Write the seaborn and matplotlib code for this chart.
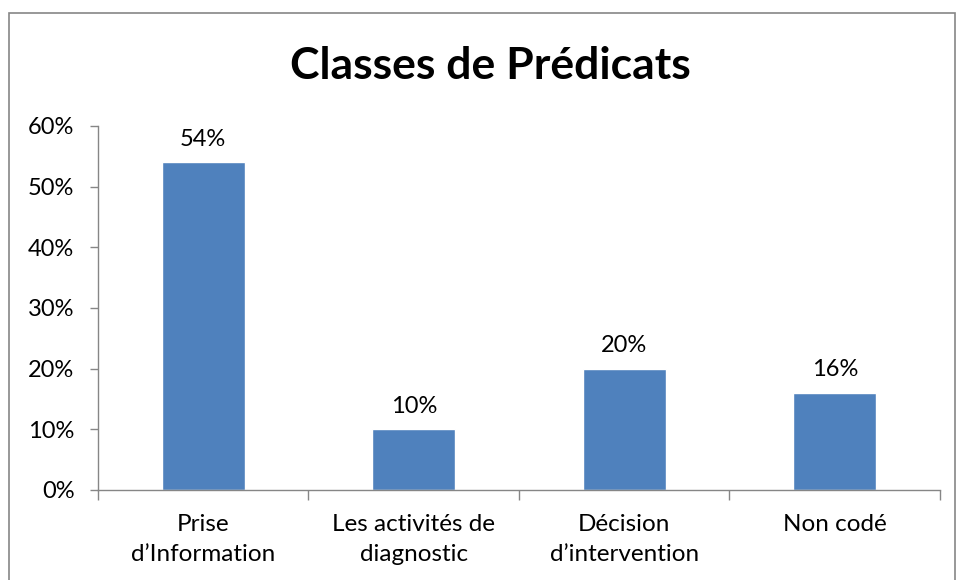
import matplotlib
matplotlib.use("Agg")
import matplotlib.pyplot as plt
import seaborn as sns
import pandas as pd
from matplotlib.patches import Rectangle
from matplotlib.ticker import PercentFormatter, FixedLocator

categories = ["Prise\nd\u2019Information", "Les activit\u00e9s de\ndiagnostic",
              "D\u00e9cision\nd\u2019intervention", "Non cod\u00e9"]
shares = [0.54, 0.10, 0.20, 0.16]
bar_labels = ["54%", "10%", "20%", "16%"]

sns.set_theme(style="white")
plt.rcParams["font.family"] = ["Lato", "DejaVu Sans"]

df = pd.DataFrame({"classe": categories, "part": shares})

fig = plt.figure(figsize=(9.57, 5.80), dpi=100)
ax = fig.add_axes([0.1024, 0.1552, 0.8798, 0.6276])

sns.barplot(data=df, x="classe", y="part", color="#4F81BD", saturation=1,
            width=0.394, ax=ax)

for i, (v, lab) in enumerate(zip(shares, bar_labels)):
    ax.annotate(lab, (i, v), xytext=(0, 9), textcoords="offset points",
                ha="center", va="bottom", fontsize=17, color="black")

ax.set_ylim(0, 0.6)
ax.set_xlim(-0.5, 3.5)
ax.set_yticks([0, 0.1, 0.2, 0.3, 0.4, 0.5, 0.6])
ax.yaxis.set_major_formatter(PercentFormatter(1.0, decimals=0))
ax.xaxis.set_minor_locator(FixedLocator([-0.5, 0.5, 1.5, 2.5, 3.5]))
ax.tick_params(axis="x", which="major", length=0, pad=17, labelsize=17.5,
               labelcolor="black")
ax.tick_params(axis="x", which="minor", length=7, width=1, color="#868686",
               direction="out", bottom=True)
ax.tick_params(axis="y", length=6, width=1, color="#868686", direction="out",
               left=True, labelsize=17, labelcolor="black", pad=11)
for lbl in ax.get_xticklabels():
    lbl.set_linespacing(1.55)
ax.set_xlabel("")
ax.set_ylabel("")
sns.despine(ax=ax)
for side in ["left", "bottom"]:
    ax.spines[side].set_color("#868686")
    ax.spines[side].set_linewidth(1)

fig.text(490 / 957, 1 - 66 / 580, "Classes de Pr\u00e9dicats", ha="center",
         va="center", fontsize=32, fontweight="bold", color="black")

# outer chart-area border
fig.patches.append(Rectangle((9 / 957, -0.05), 946 / 957, 1.05 - 13 / 580,
                             transform=fig.transFigure, fill=False,
                             edgecolor="#868686", linewidth=1.2))

fig.savefig("out.png", dpi=100, facecolor="white")
